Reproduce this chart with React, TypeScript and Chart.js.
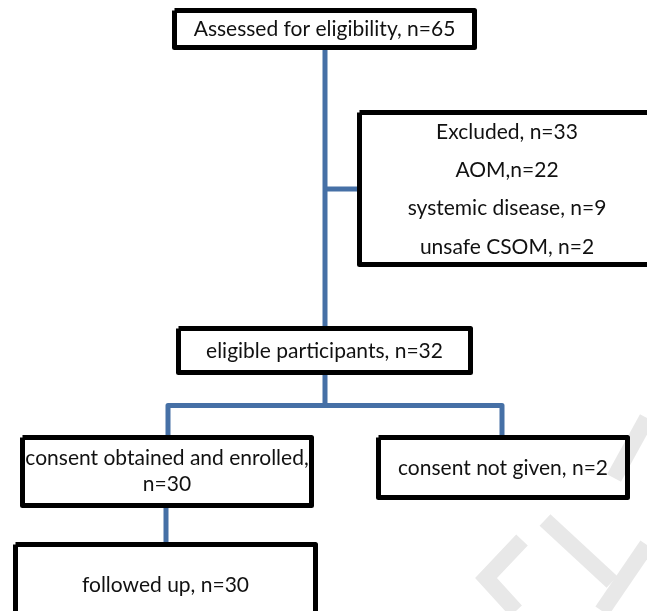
import React, { useEffect, useRef } from "react";
import { Chart, registerables } from "chart.js";

Chart.register(...registerables);

// ---- data ----
const stageNames = [
  "Assessed for eligibility",
  "Excluded",
  "eligible participants",
  "consent obtained and enrolled",
  "consent not given",
  "followed up",
];
const stageCounts = [65, 33, 32, 30, 2, 30];
const exclusionReasons = ["AOM", "systemic disease", "unsafe CSOM"];
const exclusionCounts = [22, 9, 2];

// ---- layout (outer box edges in page pixels: x0, y0, x1, y1) ----
const boxLayout = [
  [172, 8, 477, 50],
  [357, 110, 657, 267],
  [176, 326, 473, 375],
  [20, 435, 314, 508],
  [376, 435, 630, 500],
  [13, 542, 318, 622],
];
// text line centres (y) for each box
const textRows = [
  [29],
  [132, 170, 208, 247],
  [351],
  [458, 484],
  [468],
  [585],
];
// connectors as polylines [x, y, x, y, ...]
const connectorPaths = [
  [325, 48, 325, 328],
  [325, 189, 359, 189],
  [325, 373, 325, 405.5],
  [168, 437, 168, 405.5, 502, 405.5, 502, 437],
  [166, 506, 166, 544],
];
const watermarkPaths = [
  [614, 478, 647, 418],
  [545, 520, 612, 582],
  [522, 540, 486, 578, 516, 611],
  [602, 611, 647, 545],
];

const FONT = "21px Lato, 'Liberation Sans', sans-serif";
const BW = 5;

function boxTexts(): string[][] {
  return [
    [`${stageNames[0]}, n=${stageCounts[0]}`],
    [
      `${stageNames[1]}, n=${stageCounts[1]}`,
      `${exclusionReasons[0]},n=${exclusionCounts[0]}`,
      `${exclusionReasons[1]}, n=${exclusionCounts[1]}`,
      `${exclusionReasons[2]}, n=${exclusionCounts[2]}`,
    ],
    [`${stageNames[2]}, n=${stageCounts[2]}`],
    [`${stageNames[3]},`, `n=${stageCounts[3]}`],
    [`${stageNames[4]}, n=${stageCounts[4]}`],
    [`${stageNames[5]}, n=${stageCounts[5]}`],
  ];
}

function toPoints(p: number[]) {
  const pts: { x: number; y: number }[] = [];
  for (let i = 0; i < p.length; i += 2) pts.push({ x: p[i], y: p[i + 1] });
  return pts;
}

function rectPoints(b: number[]) {
  const h = BW / 2;
  const x0 = b[0] + h, y0 = b[1] + h, x1 = b[2] - h, y1 = b[3] - h;
  return [
    { x: x0, y: y0 },
    { x: x1, y: y0 },
    { x: x1, y: y1 },
    { x: x0, y: y1 },
    { x: x0, y: y0 },
  ];
}

const textPlugin = {
  id: "flowText",
  afterDatasetsDraw(chart: any) {
    const ctx = chart.ctx;
    const xs = chart.scales.x;
    const ys = chart.scales.y;
    const texts = boxTexts();
    ctx.save();
    ctx.font = FONT;
    ctx.fillStyle = "#111";
    ctx.textAlign = "center";
    ctx.textBaseline = "middle";
    texts.forEach((lines, i) => {
      const b = boxLayout[i];
      const cx = xs.getPixelForValue((b[0] + b[2]) / 2);
      lines.forEach((t, j) => {
        ctx.fillText(t, cx, ys.getPixelForValue(textRows[i][j]));
      });
    });
    ctx.restore();
  },
};

export default function App() {
  const ref = useRef<HTMLCanvasElement | null>(null);
  useEffect(() => {
    if (!ref.current) return;
    const datasets: any[] = [];
    boxLayout.forEach((b) => {
      datasets.push({
        data: rectPoints(b),
        showLine: true,
        borderColor: "#000",
        borderWidth: BW,
        borderJoinStyle: "round",
        pointRadius: 0,
        backgroundColor: "#fff",
        fill: false,
        tension: 0,
        order: 1,
        clip: false,
      });
    });
    connectorPaths.forEach((p) => {
      datasets.push({
        data: toPoints(p),
        showLine: true,
        borderColor: "#4670a6",
        borderWidth: 5,
        borderJoinStyle: "round",
        pointRadius: 0,
        fill: false,
        tension: 0,
        order: 2,
      });
    });
    watermarkPaths.forEach((p) => {
      datasets.push({
        data: toPoints(p),
        showLine: true,
        borderColor: "#e8e8e8",
        borderWidth: 16,
        borderJoinStyle: "miter",
        pointRadius: 0,
        fill: false,
        tension: 0,
        order: 3,
      });
    });
    const chart = new Chart(ref.current, {
      type: "scatter",
      data: { datasets },
      options: {
        animation: false,
        responsive: false,
        events: [],
        layout: { padding: 0 },
        plugins: { legend: { display: false }, tooltip: { enabled: false } },
        scales: {
          x: { type: "linear", min: 0, max: 647, display: false },
          y: { type: "linear", min: 0, max: 611, reverse: true, display: false },
        },
      },
      plugins: [textPlugin],
    });
    return () => chart.destroy();
  }, []);
  return (
    <div style={{ position: "absolute", left: 0, top: 0, width: 647, height: 611, background: "#fff", overflow: "hidden" }}>
      <canvas ref={ref} width={647} height={611} />
    </div>
  );
}
